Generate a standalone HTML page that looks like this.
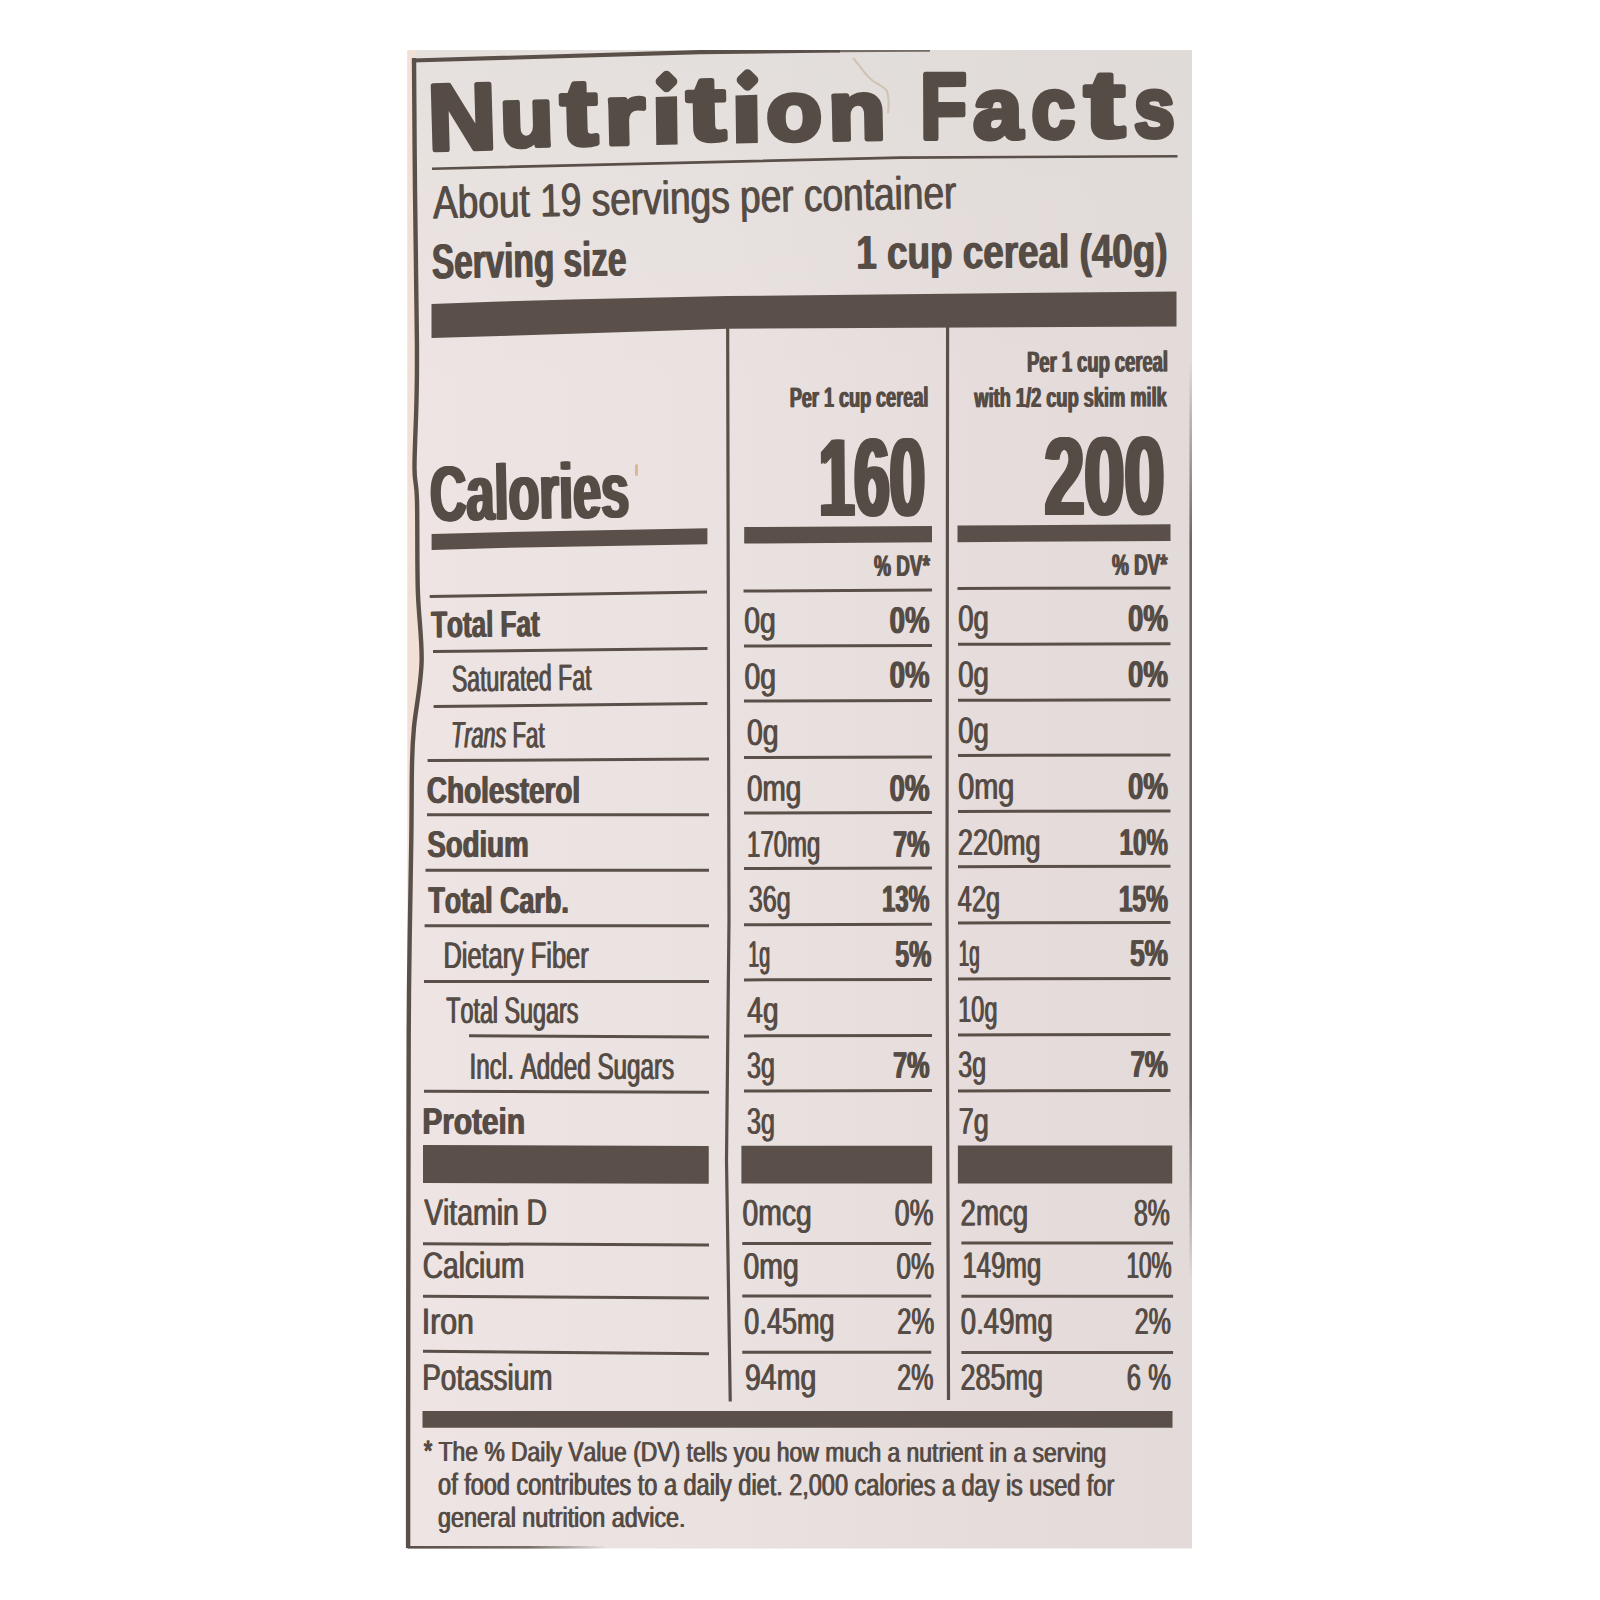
<!DOCTYPE html><html><head><meta charset="utf-8"><style>html,body{margin:0;padding:0;background:#fff;width:1600px;height:1600px;overflow:hidden}svg{display:block}text{font-family:"Liberation Sans",sans-serif;font-kerning:none;white-space:pre;text-rendering:geometricPrecision}</style></head><body>
<svg width="1600" height="1600" viewBox="0 0 1600 1600">
<rect x="0" y="0" width="1600" height="1600" fill="#ffffff"/>
<defs><linearGradient id="bgg" x1="0" y1="0" x2="1" y2="0"><stop offset="0" stop-color="#ede4e3"/><stop offset="0.4" stop-color="#eae2e1"/><stop offset="0.75" stop-color="#e5dcdb"/><stop offset="1" stop-color="#e3dbda"/></linearGradient><linearGradient id="bgt" x1="0" y1="0" x2="0" y2="1"><stop offset="0" stop-color="#dcdcd6" stop-opacity="0.45"/><stop offset="1" stop-color="#dcdcd6" stop-opacity="0"/></linearGradient><linearGradient id="btm" x1="0" y1="0" x2="1" y2="0"><stop offset="0" stop-color="#5a5049" stop-opacity="1"/><stop offset="0.6" stop-color="#5a5049" stop-opacity="0.8"/><stop offset="1" stop-color="#5a5049" stop-opacity="0"/></linearGradient></defs>
<rect x="407.5" y="50" width="784.5" height="1498.5" fill="url(#bgg)"/>
<rect x="407.5" y="50" width="784.5" height="330" fill="url(#bgt)"/>
<rect x="407.5" y="1546" width="200" height="2.6" fill="url(#btm)"/>
<defs><linearGradient id="rgt" x1="0" y1="0" x2="0" y2="1"><stop offset="0" stop-color="#5a5049" stop-opacity="0"/><stop offset="0.2" stop-color="#5a5049" stop-opacity="0.85"/><stop offset="0.8" stop-color="#5a5049" stop-opacity="0.85"/><stop offset="1" stop-color="#5a5049" stop-opacity="0"/></linearGradient></defs>
<rect x="1189.4" y="360" width="2.6" height="920" fill="url(#rgt)"/>
<path d="M853,58 C860,66 866,76 873,81 C879,85 884,87 887,91 C889,98 889,106 888,113" fill="none" stroke="#c8b6a2" stroke-width="2" opacity="0.7"/>
<rect x="635" y="464" width="3" height="12" rx="1.5" fill="#dcb994"/>
<path d="M407.5,50 L416,50 L414,58 C414.17,80.00 414.52,143.00 415,190 C415.48,237.00 416.65,305.00 416.9,340 C417.15,375.00 416.90,378.67 416.5,400 C416.10,421.33 414.42,451.33 414.5,468 C414.58,484.67 416.45,479.67 417,500 C417.55,520.33 417.03,563.00 417.8,590 C418.57,617.00 422.23,639.17 421.6,662 C420.97,684.83 415.60,709.83 414,727 C412.40,744.17 412.45,746.17 412,765 C411.55,783.83 411.80,802.50 411.3,840 C410.80,877.50 409.47,940.00 409,990 C408.53,1040.00 408.65,1065.00 408.5,1140 C408.35,1215.00 408.17,1372.00 408.1,1440 C408.03,1508.00 408.10,1530.00 408.1,1548 L407.5,1548 Z" fill="#f2e0d6"/>
<path d="M414,58 C414.17,80.00 414.52,143.00 415,190 C415.48,237.00 416.65,305.00 416.9,340 C417.15,375.00 416.90,378.67 416.5,400 C416.10,421.33 414.42,451.33 414.5,468 C414.58,484.67 416.45,479.67 417,500 C417.55,520.33 417.03,563.00 417.8,590 C418.57,617.00 422.23,639.17 421.6,662 C420.97,684.83 415.60,709.83 414,727 C412.40,744.17 412.45,746.17 412,765 C411.55,783.83 411.80,802.50 411.3,840 C410.80,877.50 409.47,940.00 409,990 C408.53,1040.00 408.65,1065.00 408.5,1140 C408.35,1215.00 408.17,1372.00 408.1,1440 C408.03,1508.00 408.10,1530.00 408.1,1548" fill="none" stroke="#5a5049" stroke-width="4.4" stroke-linejoin="round"/>
<polyline points="412,60.5 700,52.2 840,50.4" fill="none" stroke="#5a5049" stroke-width="4.2"/>
<polyline points="835,51.2 930,50.6" fill="none" stroke="#5a5049" stroke-width="2.2" opacity="0.8"/>
<rect x="0" y="0" width="1600" height="50" fill="#ffffff"/>
<polyline points="432,168.7 900,157.6 1177.5,156.25" fill="none" stroke="#5a5049" stroke-width="2.6" stroke-linejoin="round"/>
<polygon points="431.5,304 500,301.5 580,299.2 727,296 1176.5,291.5 1176.5,326.5 727,328.8 580,333.4 500,336 431.5,338" fill="#5a5049"/>
<polygon points="431.6,534 500,532.2 707.4,528.2 707.4,544.3 500,548 431.6,550" fill="#5a5049"/>
<polygon points="744.2,527.1 932,526 932,542.3 744.2,543.6" fill="#5a5049"/>
<polygon points="957.5,525.5 1170.5,524.3 1170.5,541 957.5,542.2" fill="#5a5049"/>
<polygon points="429.7,595.1 707,590.6 707,593.6 429.7,598.1" fill="#5a5049"/>
<polygon points="743.5,589.5 932,588.5 932,591.5 743.5,592.5" fill="#5a5049"/>
<polygon points="957.5,587.0 1170.5,586.5 1170.5,589.5 957.5,590.0" fill="#5a5049"/>
<polygon points="433,650.1 707.5,647.1 707.5,650.1 433,653.1" fill="#5a5049"/>
<polygon points="433.6,705.1 707.5,702.1 707.5,705.1 433.6,708.1" fill="#5a5049"/>
<polygon points="427.6,759.1 709,757.5 709,760.5 427.6,762.1" fill="#5a5049"/>
<polygon points="427,813.2 709,813.2 709,816.2 427,816.2" fill="#5a5049"/>
<polygon points="425.5,868.7 709,868.7 709,871.7 425.5,871.7" fill="#5a5049"/>
<polygon points="424.6,924.3 709,924.3 709,927.3 424.6,927.3" fill="#5a5049"/>
<polygon points="424,979.9 709,979.9 709,982.9 424,982.9" fill="#5a5049"/>
<polygon points="469,1034.3 709,1035.4 709,1038.4 469,1037.3" fill="#5a5049"/>
<polygon points="424,1089.7 709,1090.8 709,1093.8 424,1092.7" fill="#5a5049"/>
<polygon points="744,644.5 932,644.0 932,647.0 744,647.5" fill="#5a5049"/>
<polygon points="744,699.6 932,699.1 932,702.1 744,702.6" fill="#5a5049"/>
<polygon points="744,756.0 932,755.5 932,758.5 744,759.0" fill="#5a5049"/>
<polygon points="744,811.6 932,811.1 932,814.1 744,814.6" fill="#5a5049"/>
<polygon points="744,867.0 932,866.5 932,869.5 744,870.0" fill="#5a5049"/>
<polygon points="744,923.25 932,922.75 932,925.75 744,926.25" fill="#5a5049"/>
<polygon points="744,978.4 932,977.9 932,980.9 744,981.4" fill="#5a5049"/>
<polygon points="744,1034.4 932,1033.9 932,1036.9 744,1037.4" fill="#5a5049"/>
<polygon points="744,1089.5 932,1089.0 932,1092.0 744,1092.5" fill="#5a5049"/>
<polygon points="958,642.8 1170.5,642.3 1170.5,645.3 958,645.8" fill="#5a5049"/>
<polygon points="958,698.8 1170.5,698.3 1170.5,701.3 958,701.8" fill="#5a5049"/>
<polygon points="958,753.9 1170.5,753.4 1170.5,756.4 958,756.9" fill="#5a5049"/>
<polygon points="958,809.9 1170.5,809.4 1170.5,812.4 958,812.9" fill="#5a5049"/>
<polygon points="958,865.25 1170.5,864.75 1170.5,867.75 958,868.25" fill="#5a5049"/>
<polygon points="958,921.5 1170.5,921.0 1170.5,924.0 958,924.5" fill="#5a5049"/>
<polygon points="958,977.5 1170.5,977.0 1170.5,980.0 958,980.5" fill="#5a5049"/>
<polygon points="958,1033.5 1170.5,1033.0 1170.5,1036.0 958,1036.5" fill="#5a5049"/>
<polygon points="958,1089.5 1170.5,1089.0 1170.5,1092.0 958,1092.5" fill="#5a5049"/>
<polygon points="423,1145 708.75,1146 708.75,1183.75 423,1183" fill="#5a5049"/>
<polygon points="741.4,1145.75 932.1,1145.75 932.1,1183.4 741.4,1183.4" fill="#5a5049"/>
<polygon points="957.9,1145.4 1172.25,1145.4 1172.25,1183.4 957.9,1183.4" fill="#5a5049"/>
<polygon points="423,1242.25 709,1243.5 709,1246.5 423,1245.25" fill="#5a5049"/>
<polygon points="423,1294.75 709,1296.5 709,1299.5 423,1297.75" fill="#5a5049"/>
<polygon points="423,1349.75 709,1352.25 709,1355.25 423,1352.75" fill="#5a5049"/>
<polygon points="742.25,1241.9 931.25,1241.9 931.25,1244.9 742.25,1244.9" fill="#5a5049"/>
<polygon points="742.25,1294.4 931.25,1294.4 931.25,1297.4 742.25,1297.4" fill="#5a5049"/>
<polygon points="742.25,1350.75 931.25,1350.75 931.25,1353.75 742.25,1353.75" fill="#5a5049"/>
<polygon points="961.4,1241.4 1173.1,1241.4 1173.1,1244.4 961.4,1244.4" fill="#5a5049"/>
<polygon points="961.4,1294.75 1173.1,1294.75 1173.1,1297.75 961.4,1297.75" fill="#5a5049"/>
<polygon points="961.4,1351.1 1173.1,1351.1 1173.1,1354.1 961.4,1354.1" fill="#5a5049"/>
<polygon points="422.5,1411 1172.5,1411 1172.5,1427.75 422.5,1427.75" fill="#5a5049"/>
<polyline points="727.65,322 729,920 726.5,1160 730.25,1401.5" fill="none" stroke="#5a5049" stroke-width="3.2" stroke-linejoin="round"/>
<polyline points="947.6,320 947,900 948.5,1400" fill="none" stroke="#5a5049" stroke-width="3.2" stroke-linejoin="round"/>
<g transform="translate(432.80,218.50) rotate(-1.117)" fill="#564c46" font-size="46.47" font-weight="normal" font-style="normal"><text transform="scale(0.7979,1)" x="-0.09" y="0">About 19 servings per container</text><text transform="translate(1.00,0) scale(0.7979,1)" x="-0.09" y="0">About 19 servings per container</text></g>
<g transform="translate(432.40,278.50) rotate(-0.859)" fill="#564c46" font-size="49.06" font-weight="bold" font-style="normal"><text transform="scale(0.6803,1)" x="-1.41" y="0">Serving size</text><text transform="translate(1.20,0) scale(0.6803,1)" x="-1.41" y="0">Serving size</text></g>
<g transform="translate(858.00,268.80) rotate(-0.344)" fill="#564c46" font-size="47.37" font-weight="bold" font-style="normal"><text transform="scale(0.7785,1)" x="-2.98" y="0">1 cup cereal (40g)</text><text transform="translate(1.20,0) scale(0.7785,1)" x="-2.98" y="0">1 cup cereal (40g)</text></g>
<g transform="translate(790.50,407.20) rotate(-0.229)" fill="#564c46" font-size="28.38" font-weight="bold" font-style="normal"><text transform="scale(0.6361,1)" x="-1.90" y="0">Per 1 cup cereal</text><text transform="translate(1.20,0) scale(0.6361,1)" x="-1.90" y="0">Per 1 cup cereal</text></g>
<g transform="translate(1027.70,372.00) rotate(-0.229)" fill="#564c46" font-size="29.45" font-weight="bold" font-style="normal"><text transform="scale(0.6242,1)" x="-1.97" y="0">Per 1 cup cereal</text><text transform="translate(1.20,0) scale(0.6242,1)" x="-1.97" y="0">Per 1 cup cereal</text></g>
<g transform="translate(973.80,407.20) rotate(-0.229)" fill="#564c46" font-size="27.71" font-weight="bold" font-style="normal"><text transform="scale(0.6573,1)" x="0.08" y="0">with 1/2 cup skim milk</text><text transform="translate(1.20,0) scale(0.6573,1)" x="0.08" y="0">with 1/2 cup skim milk</text></g>
<g transform="translate(431.00,521.00) rotate(-1.146)" fill="#564c46" font-size="78.31" font-weight="bold" font-style="normal"><text transform="scale(0.6444,1)" x="-3.21" y="0">Calories</text><text transform="translate(1.50,0) scale(0.6444,1)" x="-3.21" y="0">Calories</text><text transform="translate(3.00,0) scale(0.6444,1)" x="-3.21" y="0">Calories</text></g>
<g transform="translate(821.00,516.00) rotate(-0.458)" fill="#564c46" font-size="110.68" font-weight="bold" font-style="normal"><text transform="scale(0.5747,1)" x="-6.97" y="0">160</text><text transform="translate(1.50,0) scale(0.5747,1)" x="-6.97" y="0">160</text><text transform="translate(3.00,0) scale(0.5747,1)" x="-6.97" y="0">160</text><text transform="translate(4.50,0) scale(0.5747,1)" x="-6.97" y="0">160</text></g>
<g transform="translate(1045.00,515.00) rotate(-0.458)" fill="#564c46" font-size="111.38" font-weight="bold" font-style="normal"><text transform="scale(0.6454,1)" x="-3.86" y="0">200</text><text transform="translate(1.50,0) scale(0.6454,1)" x="-3.86" y="0">200</text><text transform="translate(3.00,0) scale(0.6454,1)" x="-3.86" y="0">200</text><text transform="translate(4.50,0) scale(0.6454,1)" x="-3.86" y="0">200</text></g>
<g transform="translate(874.00,576.00) rotate(-0.229)" fill="#564c46" font-size="29.61" font-weight="bold" font-style="normal"><text transform="scale(0.6398,1)" x="-0.74" y="0">% DV*</text><text transform="translate(1.20,0) scale(0.6398,1)" x="-0.74" y="0">% DV*</text></g>
<g transform="translate(1112.00,575.00) rotate(-0.229)" fill="#564c46" font-size="29.61" font-weight="bold" font-style="normal"><text transform="scale(0.6340,1)" x="-0.74" y="0">% DV*</text><text transform="translate(1.20,0) scale(0.6340,1)" x="-0.74" y="0">% DV*</text></g>
<g transform="translate(431.00,637.50) rotate(-0.630)" fill="#564c46" font-size="37.36" font-weight="bold" font-style="normal"><text transform="scale(0.6964,1)" x="-0.42" y="0">Total Fat</text><text transform="translate(1.20,0) scale(0.6964,1)" x="-0.42" y="0">Total Fat</text></g>
<g transform="translate(452.50,691.50) rotate(-0.630)" fill="#564c46" font-size="36.98" font-weight="normal" font-style="normal"><text transform="scale(0.6236,1)" x="-1.68" y="0">Saturated Fat</text><text transform="translate(1.00,0) scale(0.6236,1)" x="-1.68" y="0">Saturated Fat</text></g>
<g transform="translate(452.50,747.50) rotate(-0.172)" fill="#564c46" font-size="36.98" font-weight="normal" font-style="italic"><text transform="scale(0.5860,1)" x="-3.32" y="0">Trans</text><text transform="translate(1.00,0) scale(0.5860,1)" x="-3.32" y="0">Trans</text></g>
<g transform="translate(513.75,747.50) rotate(-0.172)" fill="#564c46" font-size="36.98" font-weight="normal" font-style="normal"><text transform="scale(0.6035,1)" x="-3.03" y="0">Fat</text><text transform="translate(1.00,0) scale(0.6035,1)" x="-3.03" y="0">Fat</text></g>
<g transform="translate(427.50,802.50) rotate(0.000)" fill="#564c46" font-size="37.36" font-weight="bold" font-style="normal"><text transform="scale(0.7452,1)" x="-1.53" y="0">Cholesterol</text><text transform="translate(1.20,0) scale(0.7452,1)" x="-1.53" y="0">Cholesterol</text></g>
<g transform="translate(427.50,857.00) rotate(0.000)" fill="#564c46" font-size="37.36" font-weight="bold" font-style="normal"><text transform="scale(0.7396,1)" x="-1.08" y="0">Sodium</text><text transform="translate(1.20,0) scale(0.7396,1)" x="-1.08" y="0">Sodium</text></g>
<g transform="translate(428.00,912.50) rotate(0.000)" fill="#564c46" font-size="37.36" font-weight="bold" font-style="normal"><text transform="scale(0.7198,1)" x="-0.42" y="0">Total Carb.</text><text transform="translate(1.20,0) scale(0.7198,1)" x="-0.42" y="0">Total Carb.</text></g>
<g transform="translate(445.00,967.50) rotate(0.000)" fill="#564c46" font-size="36.98" font-weight="normal" font-style="normal"><text transform="scale(0.6863,1)" x="-3.03" y="0">Dietary Fiber</text><text transform="translate(1.00,0) scale(0.6863,1)" x="-3.03" y="0">Dietary Fiber</text></g>
<g transform="translate(446.25,1022.50) rotate(0.000)" fill="#564c46" font-size="36.98" font-weight="normal" font-style="normal"><text transform="scale(0.6302,1)" x="-0.83" y="0">Total Sugars</text><text transform="translate(1.00,0) scale(0.6302,1)" x="-0.83" y="0">Total Sugars</text></g>
<g transform="translate(471.25,1078.75) rotate(0.000)" fill="#564c46" font-size="36.98" font-weight="normal" font-style="normal"><text transform="scale(0.6549,1)" x="-3.41" y="0">Incl. Added Sugars</text><text transform="translate(1.00,0) scale(0.6549,1)" x="-3.41" y="0">Incl. Added Sugars</text></g>
<g transform="translate(423.75,1133.75) rotate(0.000)" fill="#564c46" font-size="37.36" font-weight="bold" font-style="normal"><text transform="scale(0.7975,1)" x="-2.50" y="0">Protein</text><text transform="translate(1.20,0) scale(0.7975,1)" x="-2.50" y="0">Protein</text></g>
<g transform="translate(423.75,1225.00) rotate(0.000)" fill="#564c46" font-size="36.98" font-weight="normal" font-style="normal"><text transform="scale(0.7673,1)" x="-0.16" y="0">Vitamin D</text><text transform="translate(1.00,0) scale(0.7673,1)" x="-0.16" y="0">Vitamin D</text></g>
<g transform="translate(423.75,1278.00) rotate(0.000)" fill="#564c46" font-size="36.98" font-weight="normal" font-style="normal"><text transform="scale(0.7602,1)" x="-1.88" y="0">Calcium</text><text transform="translate(1.00,0) scale(0.7602,1)" x="-1.88" y="0">Calcium</text></g>
<g transform="translate(424.00,1333.75) rotate(0.000)" fill="#564c46" font-size="36.98" font-weight="normal" font-style="normal"><text transform="scale(0.8203,1)" x="-3.41" y="0">Iron</text><text transform="translate(1.00,0) scale(0.8203,1)" x="-3.41" y="0">Iron</text></g>
<g transform="translate(424.00,1390.00) rotate(0.000)" fill="#564c46" font-size="36.98" font-weight="normal" font-style="normal"><text transform="scale(0.7553,1)" x="-3.03" y="0">Potassium</text><text transform="translate(1.00,0) scale(0.7553,1)" x="-3.03" y="0">Potassium</text></g>
<g transform="translate(744.90,632.90) rotate(-0.172)" fill="#564c46" font-size="36.98" font-weight="normal" font-style="normal"><text transform="scale(0.7694,1)" x="-1.44" y="0">0g</text><text transform="translate(1.00,0) scale(0.7694,1)" x="-1.44" y="0">0g</text></g>
<g transform="translate(745.00,688.90) rotate(-0.172)" fill="#564c46" font-size="36.98" font-weight="normal" font-style="normal"><text transform="scale(0.7694,1)" x="-1.44" y="0">0g</text><text transform="translate(1.00,0) scale(0.7694,1)" x="-1.44" y="0">0g</text></g>
<g transform="translate(747.50,744.90) rotate(-0.172)" fill="#564c46" font-size="36.98" font-weight="normal" font-style="normal"><text transform="scale(0.7694,1)" x="-1.44" y="0">0g</text><text transform="translate(1.00,0) scale(0.7694,1)" x="-1.44" y="0">0g</text></g>
<g transform="translate(747.50,800.90) rotate(-0.172)" fill="#564c46" font-size="36.98" font-weight="normal" font-style="normal"><text transform="scale(0.7562,1)" x="-1.44" y="0">0mg</text><text transform="translate(1.00,0) scale(0.7562,1)" x="-1.44" y="0">0mg</text></g>
<g transform="translate(748.40,856.90) rotate(-0.172)" fill="#564c46" font-size="36.98" font-weight="normal" font-style="normal"><text transform="scale(0.6481,1)" x="-2.82" y="0">170mg</text><text transform="translate(1.00,0) scale(0.6481,1)" x="-2.82" y="0">170mg</text></g>
<g transform="translate(749.25,911.60) rotate(-0.172)" fill="#564c46" font-size="36.98" font-weight="normal" font-style="normal"><text transform="scale(0.6779,1)" x="-1.41" y="0">36g</text><text transform="translate(1.00,0) scale(0.6779,1)" x="-1.41" y="0">36g</text></g>
<g transform="translate(749.25,966.75) rotate(-0.172)" fill="#564c46" font-size="36.98" font-weight="normal" font-style="normal"><text transform="scale(0.5330,1)" x="-2.82" y="0">1g</text><text transform="translate(1.00,0) scale(0.5330,1)" x="-2.82" y="0">1g</text></g>
<g transform="translate(747.50,1022.75) rotate(-0.172)" fill="#564c46" font-size="36.98" font-weight="normal" font-style="normal"><text transform="scale(0.7586,1)" x="-0.85" y="0">4g</text><text transform="translate(1.00,0) scale(0.7586,1)" x="-0.85" y="0">4g</text></g>
<g transform="translate(747.50,1077.90) rotate(-0.172)" fill="#564c46" font-size="36.98" font-weight="normal" font-style="normal"><text transform="scale(0.6763,1)" x="-1.41" y="0">3g</text><text transform="translate(1.00,0) scale(0.6763,1)" x="-1.41" y="0">3g</text></g>
<g transform="translate(747.50,1133.75) rotate(-0.172)" fill="#564c46" font-size="36.98" font-weight="normal" font-style="normal"><text transform="scale(0.6763,1)" x="-1.41" y="0">3g</text><text transform="translate(1.00,0) scale(0.6763,1)" x="-1.41" y="0">3g</text></g>
<g transform="translate(743.10,1225.40) rotate(-0.172)" fill="#564c46" font-size="36.98" font-weight="normal" font-style="normal"><text transform="scale(0.7668,1)" x="-1.44" y="0">0mcg</text><text transform="translate(1.00,0) scale(0.7668,1)" x="-1.44" y="0">0mcg</text></g>
<g transform="translate(744.00,1278.75) rotate(-0.172)" fill="#564c46" font-size="36.98" font-weight="normal" font-style="normal"><text transform="scale(0.7694,1)" x="-1.44" y="0">0mg</text><text transform="translate(1.00,0) scale(0.7694,1)" x="-1.44" y="0">0mg</text></g>
<g transform="translate(744.90,1333.90) rotate(-0.172)" fill="#564c46" font-size="36.98" font-weight="normal" font-style="normal"><text transform="scale(0.7309,1)" x="-1.44" y="0">0.45mg</text><text transform="translate(1.00,0) scale(0.7309,1)" x="-1.44" y="0">0.45mg</text></g>
<g transform="translate(745.75,1389.90) rotate(-0.172)" fill="#564c46" font-size="36.98" font-weight="normal" font-style="normal"><text transform="scale(0.7711,1)" x="-1.73" y="0">94mg</text><text transform="translate(1.00,0) scale(0.7711,1)" x="-1.73" y="0">94mg</text></g>
<g transform="translate(958.75,631.10) rotate(-0.172)" fill="#564c46" font-size="36.98" font-weight="normal" font-style="normal"><text transform="scale(0.7466,1)" x="-1.44" y="0">0g</text><text transform="translate(1.00,0) scale(0.7466,1)" x="-1.44" y="0">0g</text></g>
<g transform="translate(958.75,687.10) rotate(-0.172)" fill="#564c46" font-size="36.98" font-weight="normal" font-style="normal"><text transform="scale(0.7466,1)" x="-1.44" y="0">0g</text><text transform="translate(1.00,0) scale(0.7466,1)" x="-1.44" y="0">0g</text></g>
<g transform="translate(958.75,743.10) rotate(-0.172)" fill="#564c46" font-size="36.98" font-weight="normal" font-style="normal"><text transform="scale(0.7466,1)" x="-1.44" y="0">0g</text><text transform="translate(1.00,0) scale(0.7466,1)" x="-1.44" y="0">0g</text></g>
<g transform="translate(958.75,799.10) rotate(-0.172)" fill="#564c46" font-size="36.98" font-weight="normal" font-style="normal"><text transform="scale(0.7819,1)" x="-1.44" y="0">0mg</text><text transform="translate(1.00,0) scale(0.7819,1)" x="-1.44" y="0">0mg</text></g>
<g transform="translate(958.75,855.10) rotate(-0.172)" fill="#564c46" font-size="36.98" font-weight="normal" font-style="normal"><text transform="scale(0.7310,1)" x="-1.86" y="0">220mg</text><text transform="translate(1.00,0) scale(0.7310,1)" x="-1.86" y="0">220mg</text></g>
<g transform="translate(957.90,911.60) rotate(-0.172)" fill="#564c46" font-size="36.98" font-weight="normal" font-style="normal"><text transform="scale(0.6859,1)" x="-0.85" y="0">42g</text><text transform="translate(1.00,0) scale(0.6859,1)" x="-0.85" y="0">42g</text></g>
<g transform="translate(959.60,965.90) rotate(-0.172)" fill="#564c46" font-size="36.98" font-weight="normal" font-style="normal"><text transform="scale(0.5093,1)" x="-2.82" y="0">1g</text><text transform="translate(1.00,0) scale(0.5093,1)" x="-2.82" y="0">1g</text></g>
<g transform="translate(959.60,1021.90) rotate(-0.172)" fill="#564c46" font-size="36.98" font-weight="normal" font-style="normal"><text transform="scale(0.6337,1)" x="-2.82" y="0">10g</text><text transform="translate(1.00,0) scale(0.6337,1)" x="-2.82" y="0">10g</text></g>
<g transform="translate(958.75,1077.00) rotate(-0.172)" fill="#564c46" font-size="36.98" font-weight="normal" font-style="normal"><text transform="scale(0.6763,1)" x="-1.41" y="0">3g</text><text transform="translate(1.00,0) scale(0.6763,1)" x="-1.41" y="0">3g</text></g>
<g transform="translate(959.60,1133.75) rotate(-0.172)" fill="#564c46" font-size="36.98" font-weight="normal" font-style="normal"><text transform="scale(0.7327,1)" x="-1.90" y="0">7g</text><text transform="translate(1.00,0) scale(0.7327,1)" x="-1.90" y="0">7g</text></g>
<g transform="translate(961.40,1225.40) rotate(-0.172)" fill="#564c46" font-size="36.98" font-weight="normal" font-style="normal"><text transform="scale(0.7496,1)" x="-1.86" y="0">2mcg</text><text transform="translate(1.00,0) scale(0.7496,1)" x="-1.86" y="0">2mcg</text></g>
<g transform="translate(964.00,1277.90) rotate(-0.172)" fill="#564c46" font-size="36.98" font-weight="normal" font-style="normal"><text transform="scale(0.6963,1)" x="-2.82" y="0">149mg</text><text transform="translate(1.00,0) scale(0.6963,1)" x="-2.82" y="0">149mg</text></g>
<g transform="translate(961.40,1333.90) rotate(-0.172)" fill="#564c46" font-size="36.98" font-weight="normal" font-style="normal"><text transform="scale(0.7456,1)" x="-1.44" y="0">0.49mg</text><text transform="translate(1.00,0) scale(0.7456,1)" x="-1.44" y="0">0.49mg</text></g>
<g transform="translate(961.40,1389.90) rotate(-0.172)" fill="#564c46" font-size="36.98" font-weight="normal" font-style="normal"><text transform="scale(0.7306,1)" x="-1.86" y="0">285mg</text><text transform="translate(1.00,0) scale(0.7306,1)" x="-1.86" y="0">285mg</text></g>
<g transform="translate(890.10,632.90) rotate(-0.172)" fill="#564c46" font-size="37.36" font-weight="bold" font-style="normal"><text transform="scale(0.7412,1)" x="-1.48" y="0">0%</text><text transform="translate(1.20,0) scale(0.7412,1)" x="-1.48" y="0">0%</text></g>
<g transform="translate(890.10,687.50) rotate(-0.172)" fill="#564c46" font-size="37.36" font-weight="bold" font-style="normal"><text transform="scale(0.7412,1)" x="-1.48" y="0">0%</text><text transform="translate(1.20,0) scale(0.7412,1)" x="-1.48" y="0">0%</text></g>
<g transform="translate(890.00,800.90) rotate(-0.172)" fill="#564c46" font-size="37.36" font-weight="bold" font-style="normal"><text transform="scale(0.7432,1)" x="-1.48" y="0">0%</text><text transform="translate(1.20,0) scale(0.7432,1)" x="-1.48" y="0">0%</text></g>
<g transform="translate(893.60,856.90) rotate(-0.172)" fill="#564c46" font-size="37.36" font-weight="bold" font-style="normal"><text transform="scale(0.6750,1)" x="-1.61" y="0">7%</text><text transform="translate(1.20,0) scale(0.6750,1)" x="-1.61" y="0">7%</text></g>
<g transform="translate(883.10,911.60) rotate(-0.172)" fill="#564c46" font-size="37.36" font-weight="bold" font-style="normal"><text transform="scale(0.6327,1)" x="-2.35" y="0">13%</text><text transform="translate(1.20,0) scale(0.6327,1)" x="-2.35" y="0">13%</text></g>
<g transform="translate(895.40,966.75) rotate(-0.172)" fill="#564c46" font-size="37.36" font-weight="bold" font-style="normal"><text transform="scale(0.6690,1)" x="-1.15" y="0">5%</text><text transform="translate(1.20,0) scale(0.6690,1)" x="-1.15" y="0">5%</text></g>
<g transform="translate(893.60,1077.90) rotate(-0.172)" fill="#564c46" font-size="37.36" font-weight="bold" font-style="normal"><text transform="scale(0.6750,1)" x="-1.61" y="0">7%</text><text transform="translate(1.20,0) scale(0.6750,1)" x="-1.61" y="0">7%</text></g>
<g transform="translate(895.40,1225.40) rotate(-0.172)" fill="#564c46" font-size="36.98" font-weight="normal" font-style="normal"><text transform="scale(0.7222,1)" x="-1.44" y="0">0%</text><text transform="translate(1.00,0) scale(0.7222,1)" x="-1.44" y="0">0%</text></g>
<g transform="translate(897.10,1278.75) rotate(-0.172)" fill="#564c46" font-size="36.98" font-weight="normal" font-style="normal"><text transform="scale(0.7064,1)" x="-1.44" y="0">0%</text><text transform="translate(1.00,0) scale(0.7064,1)" x="-1.44" y="0">0%</text></g>
<g transform="translate(898.00,1333.90) rotate(-0.172)" fill="#564c46" font-size="36.98" font-weight="normal" font-style="normal"><text transform="scale(0.6943,1)" x="-1.86" y="0">2%</text><text transform="translate(1.00,0) scale(0.6943,1)" x="-1.86" y="0">2%</text></g>
<g transform="translate(898.00,1389.90) rotate(-0.172)" fill="#564c46" font-size="36.98" font-weight="normal" font-style="normal"><text transform="scale(0.6764,1)" x="-1.86" y="0">2%</text><text transform="translate(1.00,0) scale(0.6764,1)" x="-1.86" y="0">2%</text></g>
<g transform="translate(1128.50,631.10) rotate(-0.172)" fill="#564c46" font-size="37.36" font-weight="bold" font-style="normal"><text transform="scale(0.7412,1)" x="-1.48" y="0">0%</text><text transform="translate(1.20,0) scale(0.7412,1)" x="-1.48" y="0">0%</text></g>
<g transform="translate(1128.50,687.10) rotate(-0.172)" fill="#564c46" font-size="37.36" font-weight="bold" font-style="normal"><text transform="scale(0.7412,1)" x="-1.48" y="0">0%</text><text transform="translate(1.20,0) scale(0.7412,1)" x="-1.48" y="0">0%</text></g>
<g transform="translate(1128.50,799.10) rotate(-0.172)" fill="#564c46" font-size="37.36" font-weight="bold" font-style="normal"><text transform="scale(0.7412,1)" x="-1.48" y="0">0%</text><text transform="translate(1.20,0) scale(0.7412,1)" x="-1.48" y="0">0%</text></g>
<g transform="translate(1120.60,855.10) rotate(-0.172)" fill="#564c46" font-size="37.36" font-weight="bold" font-style="normal"><text transform="scale(0.6453,1)" x="-2.35" y="0">10%</text><text transform="translate(1.20,0) scale(0.6453,1)" x="-2.35" y="0">10%</text></g>
<g transform="translate(1119.75,911.60) rotate(-0.172)" fill="#564c46" font-size="37.36" font-weight="bold" font-style="normal"><text transform="scale(0.6572,1)" x="-2.35" y="0">15%</text><text transform="translate(1.20,0) scale(0.6572,1)" x="-2.35" y="0">15%</text></g>
<g transform="translate(1130.25,965.90) rotate(-0.172)" fill="#564c46" font-size="37.36" font-weight="bold" font-style="normal"><text transform="scale(0.7028,1)" x="-1.15" y="0">5%</text><text transform="translate(1.20,0) scale(0.7028,1)" x="-1.15" y="0">5%</text></g>
<g transform="translate(1131.10,1077.00) rotate(-0.172)" fill="#564c46" font-size="37.36" font-weight="bold" font-style="normal"><text transform="scale(0.6925,1)" x="-1.61" y="0">7%</text><text transform="translate(1.20,0) scale(0.6925,1)" x="-1.61" y="0">7%</text></g>
<g transform="translate(1134.60,1225.40) rotate(-0.172)" fill="#564c46" font-size="36.98" font-weight="normal" font-style="normal"><text transform="scale(0.6730,1)" x="-1.61" y="0">8%</text><text transform="translate(1.00,0) scale(0.6730,1)" x="-1.61" y="0">8%</text></g>
<g transform="translate(1127.60,1277.90) rotate(-0.172)" fill="#564c46" font-size="36.98" font-weight="normal" font-style="normal"><text transform="scale(0.6125,1)" x="-2.82" y="0">10%</text><text transform="translate(1.00,0) scale(0.6125,1)" x="-2.82" y="0">10%</text></g>
<g transform="translate(1135.50,1333.90) rotate(-0.172)" fill="#564c46" font-size="36.98" font-weight="normal" font-style="normal"><text transform="scale(0.6764,1)" x="-1.86" y="0">2%</text><text transform="translate(1.00,0) scale(0.6764,1)" x="-1.86" y="0">2%</text></g>
<g transform="translate(1127.60,1389.90) rotate(-0.172)" fill="#564c46" font-size="36.98" font-weight="normal" font-style="normal"><text transform="scale(0.6923,1)" x="-1.88" y="0">6 %</text><text transform="translate(1.00,0) scale(0.6923,1)" x="-1.88" y="0">6 %</text></g>
<g transform="translate(423.50,1461.00) rotate(0.000)" fill="#564c46" font-size="29.89" font-weight="bold" font-style="normal"><text transform="scale(0.7382,1)" x="-0.09" y="0">*</text><text transform="translate(0.50,0) scale(0.7382,1)" x="-0.09" y="0">*</text></g>
<g transform="translate(438.60,1461.00) rotate(0.092)" fill="#564c46" font-size="27.63" font-weight="normal" font-style="normal"><text transform="scale(0.8283,1)" x="-0.62" y="0">The % Daily Value (DV) tells you how much a nutrient in a serving</text><text transform="translate(1.00,0) scale(0.8283,1)" x="-0.62" y="0">The % Daily Value (DV) tells you how much a nutrient in a serving</text></g>
<g transform="translate(438.60,1494.60) rotate(0.092)" fill="#564c46" font-size="30.47" font-weight="normal" font-style="normal"><text transform="scale(0.7706,1)" x="-1.28" y="0">of food contributes to a daily diet. 2,000 calories a day is used for</text><text transform="translate(1.00,0) scale(0.7706,1)" x="-1.28" y="0">of food contributes to a daily diet. 2,000 calories a day is used for</text></g>
<g transform="translate(438.60,1526.75) rotate(0.000)" fill="#564c46" font-size="28.29" font-weight="normal" font-style="normal"><text transform="scale(0.8238,1)" x="-1.19" y="0">general nutrition advice.</text><text transform="translate(1.00,0) scale(0.8238,1)" x="-1.19" y="0">general nutrition advice.</text></g>
<g transform="translate(432.50,152.40) rotate(-1.604)"><text transform="translate(0,-2.50) scale(1.0163,1)" x="-3.73" y="0" font-size="93.17" font-weight="bold" fill="#564c46" stroke="#564c46" stroke-width="5.00" stroke-linejoin="round">N</text></g>
<g transform="translate(503.75,149.75) rotate(-1.432)"><text transform="translate(0,-3.31) scale(1.0515,1)" x="-2.63" y="0" font-size="82.70" font-weight="bold" fill="#564c46" stroke="#564c46" stroke-width="5.00" stroke-linejoin="round">u</text></g>
<g transform="translate(560.00,148.25) rotate(-1.432)"><text transform="translate(0,-3.32) scale(1.1752,1)" x="1.36" y="0" font-size="93.40" font-weight="bold" fill="#564c46" stroke="#564c46" stroke-width="5.00" stroke-linejoin="round">t</text></g>
<g transform="translate(608.75,146.75) rotate(-1.260)"><text transform="translate(0,-2.50) scale(1.2384,1)" x="-3.04" y="0" font-size="84.02" font-weight="bold" fill="#564c46" stroke="#564c46" stroke-width="5.00" stroke-linejoin="round">r</text></g>
<g transform="translate(767.75,143.75) rotate(-1.146)"><text transform="translate(0,-3.32) scale(1.0859,1)" x="-0.78" y="0" font-size="83.96" font-weight="bold" fill="#564c46" stroke="#564c46" stroke-width="5.00" stroke-linejoin="round">o</text></g>
<g transform="translate(832.25,142.25) rotate(-1.146)"><text transform="translate(0,-2.50) scale(1.1358,1)" x="-2.95" y="0" font-size="82.63" font-weight="bold" fill="#564c46" stroke="#564c46" stroke-width="5.00" stroke-linejoin="round">n</text></g>
<g transform="translate(923.40,141.00) rotate(-0.229)"><text transform="translate(0,-2.50) scale(0.8234,1)" x="-3.74" y="0" font-size="93.32" font-weight="bold" fill="#564c46" stroke="#564c46" stroke-width="5.00" stroke-linejoin="round">F</text></g>
<g transform="translate(973.20,141.70) rotate(-0.229)"><text transform="translate(0,-3.34) scale(1.0267,1)" x="-0.02" y="0" font-size="86.15" font-weight="bold" fill="#564c46" stroke="#564c46" stroke-width="5.00" stroke-linejoin="round">a</text></g>
<g transform="translate(1032.30,141.00) rotate(-0.229)"><text transform="translate(0,-3.34) scale(0.9127,1)" x="-0.87" y="0" font-size="86.34" font-weight="bold" fill="#564c46" stroke="#564c46" stroke-width="5.00" stroke-linejoin="round">c</text></g>
<g transform="translate(1082.90,140.20) rotate(-0.229)"><text transform="translate(0,-3.33) scale(1.2846,1)" x="1.35" y="0" font-size="94.53" font-weight="bold" fill="#564c46" stroke="#564c46" stroke-width="5.00" stroke-linejoin="round">t</text></g>
<g transform="translate(1134.40,140.20) rotate(-0.229)"><text transform="translate(0,-3.33) scale(0.8665,1)" x="-0.48" y="0" font-size="84.80" font-weight="bold" fill="#564c46" stroke="#564c46" stroke-width="5.00" stroke-linejoin="round">s</text></g>
<g transform="translate(685.70,143.75) rotate(-1.146)"><text transform="translate(0,-3.30) scale(1.2680,1)" x="1.39" y="0" font-size="91.13" font-weight="bold" fill="#564c46" stroke="#564c46" stroke-width="5.00" stroke-linejoin="round">t</text></g>
<polygon points="655.7,96.9 677,96.3 677.6,144.5 656.3000000000001,144.9" fill="#564c46"/>
<polygon points="735.5,95.4 757.25,94.8 757.85,143 736.1,143.4" fill="#564c46"/>
<rect x="657.50" y="72.50" width="18.00" height="18.00" rx="4.5" fill="#564c46" transform="rotate(45 666.5 81.5)"/>
<rect x="738.50" y="71.00" width="18.00" height="18.00" rx="4.5" fill="#564c46" transform="rotate(45 747.5 80)"/>
</svg></body></html>
